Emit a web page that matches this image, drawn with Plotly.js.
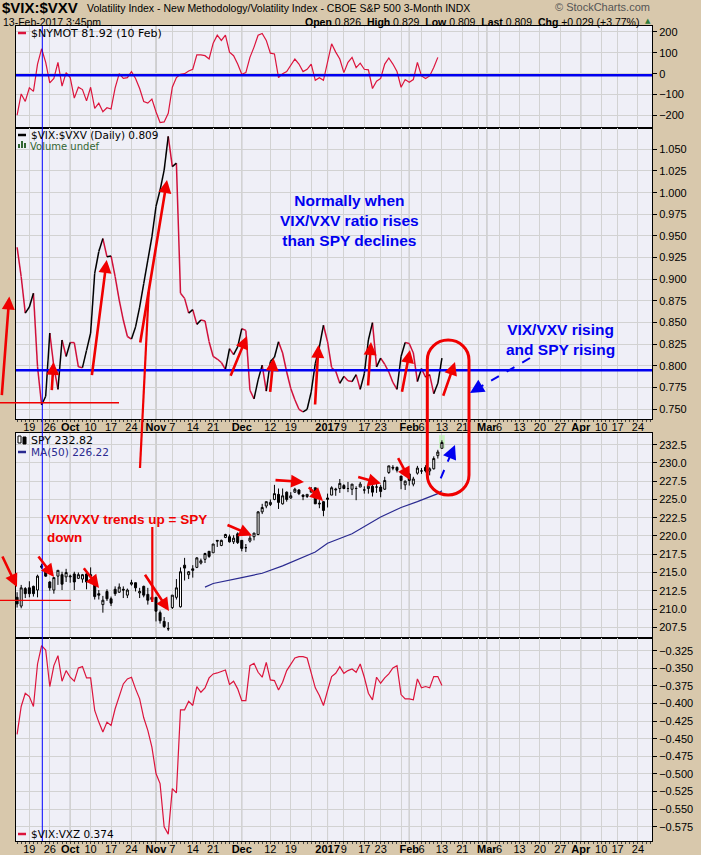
<!DOCTYPE html>
<html><head><meta charset="utf-8">
<script src="https://cdn.plot.ly/plotly-3.0.1.min.js"></script>
<style>html,body{margin:0;padding:0;background:#d8c8ac;}#chart{width:701px;height:855px;}</style>
</head><body><div id="chart"></div>
<script>
// ---- data (trading-day index: 0 = 3 Oct 2016, -13 = 14 Sep 2016, 91 = 13 Feb 2017) ----
const firstIdx = -13;
const nymot = [-198,-97,-133,-68,-85,46,119,54,-44,-23,54,-60,5,-19,-117,-65,-76,-130,-65,-166,
  -141,-182,-163,-169,-68,0,-23,-19,10,-23,-71,-133,-141,-122,-182,-234,-231,-190,-65,-19,
  -3,0,13,21,90,90,86,70,146,184,159,184,103,86,46,-3,5,78,127,184,
  192,159,98,94,-19,0,10,37,70,46,10,21,46,-32,-19,-32,54,143,103,70,
  5,54,78,29,50,21,18,-71,-36,-23,46,75,46,10,-65,-28,-41,-28,54,-11,
  -23,-11,29,78];
const vixvxv = [0.937,0.903,0.861,0.868,0.884,0.799,0.755,0.765,0.838,0.799,
  0.773,0.830,0.811,0.827,0.827,0.799,0.798,0.818,0.838,0.907,
  0.932,0.947,0.926,0.927,0.903,0.876,0.853,0.834,0.831,0.845,
  0.868,0.895,0.922,0.949,0.984,1.003,1.026,1.065,1.030,1.034,
  0.884,0.878,0.861,0.865,0.848,0.853,0.852,0.828,0.811,0.808,
  0.804,0.796,0.820,0.813,0.822,0.843,0.841,0.772,0.762,0.784,
  0.801,0.771,0.805,0.810,0.828,0.815,0.793,0.774,0.761,0.750,
  0.747,0.750,0.770,0.803,0.822,0.847,0.828,0.798,0.794,0.780,
  0.788,0.783,
  0.782,0.790,0.773,0.791,0.830,0.850,0.799,0.809,0.802,0.793,
  0.781,0.773,0.811,0.827,0.826,0.815,0.782,0.797,0.787,0.790,
  0.768,0.780,0.809];
const spyOpen = [211.6,210.4,212.8,212.9,213.1,212.6,215.7,215.4,213.7,212.6,214.5,214.7,214.4,
  214.4,214.8,214.2,214.1,214.8,214.5,214.3,212.1,210.6,212.4,211.4,212.7,212.3,212.7,211.9,213.4,213.6,212.2,213.1,212.0,211.6,
  211.6,209.5,208.3,207.3,210.2,211.6,210.3,216.0,214.7,215.5,215.7,216.3,216.8,217.9,217.7,219.4,218.7,219.8,219.9,219.2,220.3,
  219.4,218.4,219.3,219.9,220.2,223.3,224.1,224.3,225.0,225.7,224.4,226.0,225.2,226.0,226.3,225.6,225.4,226.0,226.6,224.5,224.7,
  225.0,225.6,226.3,226.5,226.9,226.5,226.4,226.5,226.7,226.3,226.5,226.8,226.7,226.7,226.4,228.7,229.4,229.4,228.2,227.0,
  228.5,227.1,228.6,228.9,229.4,228.9,229.2,231.0,232.0];
const spyHigh = [212.3,213.3,213.0,213.8,213.2,214.7,216.2,215.5,213.8,214.3,215.3,215.1,215.5,
  214.7,215.1,215.0,214.8,215.0,215.7,214.4,212.6,211.8,212.7,211.7,213.1,213.5,213.1,212.8,214.0,213.6,212.9,213.2,212.9,211.7,
  211.6,209.8,208.9,208.2,211.9,214.1,215.7,217.0,215.2,216.0,217.1,216.9,217.7,217.9,218.9,219.4,219.5,220.3,220.2,220.1,220.5,
  219.4,218.9,220.1,220.4,223.4,224.4,224.7,225.0,227.0,226.5,226.5,226.1,226.0,226.6,226.4,225.7,225.7,226.7,226.6,224.9,224.8,
  225.8,226.8,226.6,227.8,227.1,227.4,227.1,226.8,227.4,226.8,226.8,227.0,227.3,227.0,228.1,229.6,229.7,229.5,228.2,227.6,
  228.6,228.1,229.6,229.3,229.7,229.4,230.9,231.8,233.1];
const spyLow = [210.2,210.1,211.5,211.6,211.7,211.6,215.5,214.4,212.5,212.1,213.3,212.6,213.7,
  213.6,212.6,214.1,213.6,212.7,214.3,211.3,211.3,209.5,211.1,210.4,211.8,212.2,211.5,211.5,213.2,212.4,211.5,211.6,210.6,211.0,
  208.3,208.0,207.4,207.0,210.0,211.3,210.2,213.9,214.1,214.3,215.6,216.1,216.3,217.0,217.7,218.5,218.6,219.7,219.1,218.9,218.9,
  217.9,217.8,219.1,219.4,220.1,223.0,223.8,224.1,224.9,223.7,224.3,224.7,225.1,225.9,225.6,224.9,225.2,226.0,224.4,223.8,222.7,
  223.9,225.6,225.5,225.9,226.4,226.0,225.6,224.9,226.7,225.8,225.8,225.4,225.9,225.3,226.3,228.5,229.0,228.7,226.4,226.3,
  226.9,226.8,228.4,228.5,228.7,228.3,229.1,230.6,232.0];
const spyClose = [210.7,212.9,212.1,212.1,212.1,214.5,215.9,214.5,212.9,214.3,215.3,213.4,215.0,
  214.5,213.7,214.7,214.7,213.7,214.7,211.7,211.9,211.2,211.4,210.8,212.1,213.0,212.6,212.6,213.6,212.9,212.4,211.9,211.2,211.3,
  209.7,208.4,207.6,207.3,211.9,212.9,215.1,215.6,215.1,215.3,217.0,216.6,217.6,217.2,218.9,219.3,219.4,220.2,219.2,219.7,219.1,
  218.3,218.4,219.7,220.4,223.3,223.9,224.7,224.6,225.8,224.6,225.5,225.0,225.5,226.4,225.8,225.4,225.7,226.3,224.4,224.4,223.5,
  225.2,226.6,226.4,227.2,226.5,226.5,227.1,226.5,227.1,226.3,226.8,226.0,226.7,226.1,227.6,229.6,229.3,229.0,227.6,227.5,
  227.6,227.8,229.3,228.9,228.9,229.2,230.6,231.5,232.8];
const maIdx = [33,35,42,47,52,56,60,63,69,76,81,85,90,91];
const maVal = [213.0,213.5,214.3,214.9,215.9,216.8,217.8,219.0,220.3,222.6,223.9,224.7,225.8,226.2];
const vixvxz = [-0.4439,-0.4042,-0.3854,-0.3901,-0.4042,-0.3439,-0.3179,-0.3241,-0.3759,-0.3462,
  -0.3321,-0.3684,-0.3533,-0.3627,-0.3684,-0.3495,-0.3476,-0.3637,-0.3637,-0.4099,
  -0.4264,-0.4406,-0.4264,-0.4311,-0.4075,-0.3887,-0.3722,-0.3651,-0.3627,-0.3792,
  -0.3934,-0.4203,-0.4382,-0.4618,-0.4995,-0.5137,-0.5750,-0.5854,-0.5208,-0.5269,
  -0.4090,-0.4090,-0.3967,-0.4028,-0.3759,-0.3840,-0.3778,-0.3637,-0.3580,-0.3566,
  -0.3542,-0.3524,-0.3731,-0.3684,-0.3792,-0.3958,-0.3958,-0.3462,-0.3429,-0.3557,
  -0.3627,-0.3415,-0.3665,-0.3675,-0.3807,-0.3698,-0.3533,-0.3439,-0.3354,-0.3335,
  -0.3335,-0.3354,-0.3557,-0.3778,-0.3887,-0.4028,-0.3816,-0.3618,-0.3571,-0.3476,
  -0.3571,-0.3533,
  -0.3509,-0.3557,-0.3439,-0.3627,-0.3854,-0.3948,-0.3627,-0.3712,-0.3637,-0.3580,
  -0.3495,-0.3462,-0.3873,-0.3934,-0.3934,-0.3948,-0.3651,-0.3778,-0.3759,-0.3778,
  -0.3618,-0.3618,-0.3745];
const tickIdx = [-10,-5,0,5,10,15,21,25,30,35,39,42,49,54,59,63,67,72,76,81,83,86,91,96,100,102,105,110,115,120,125,130,134,139];
const tickText = ['19','26','<b>Oct</b>','10','17','24','<b>Nov</b>','7','14','21','','<b>Dec</b>','12','19','','<b>2017</b>','9','17','23','','<b>Feb</b>','6','13','21','','<b>Mar</b>','6','13','20','27','<b>Apr</b>','10','17','24'];
const monthIdx = [0,21,42,63,83,102,125];

// ---- helpers ----
const W = 701, H = 855;
const X = p => p / W, Y = p => 1 - p / H;
const xs = arr => arr.map((_, i) => i + firstIdx);
const FONT = 'Liberation Sans, Arial, sans-serif';
const RED = '#f00000', CRIMSON = '#dc143c', BLUE = '#0000f0';

const upX = [], upY = [], dnX = [], dnY = [];
for (let i = 0; i < vixvxv.length - 1; i++) {
  const rising = vixvxv[i + 1] > vixvxv[i];
  const tx = rising ? upX : dnX, ty = rising ? upY : dnY;
  tx.push(i + firstIdx, i + 1 + firstIdx, null); ty.push(vixvxv[i], vixvxv[i + 1], null);
}

const traces = [
  {type:'scatter', mode:'lines', x:xs(nymot), y:nymot, xaxis:'x', yaxis:'y', line:{color:CRIMSON, width:1.2}},
  {type:'scatter', mode:'lines', x:dnX, y:dnY, xaxis:'x2', yaxis:'y2', line:{color:'#d0103a', width:1.5}, connectgaps:false},
  {type:'scatter', mode:'lines', x:upX, y:upY, xaxis:'x2', yaxis:'y2', line:{color:'#000000', width:1.5}, connectgaps:false},
  {type:'candlestick', x:xs(spyClose), open:spyOpen, high:spyHigh, low:spyLow, close:spyClose, xaxis:'x3', yaxis:'y3',
   increasing:{line:{color:'#000', width:1}, fillcolor:'#ffffff'}, decreasing:{line:{color:'#000', width:1}, fillcolor:'#000000'}, whiskerwidth:0},
  {type:'scatter', mode:'lines', x:maIdx, y:maVal, xaxis:'x3', yaxis:'y3', line:{color:'#2a2a90', width:1.2}},
  {type:'scatter', mode:'lines', x:xs(vixvxz), y:vixvxz, xaxis:'x4', yaxis:'y4', line:{color:CRIMSON, width:1.2}}
];

const xr = [-13.27, 142.43];
function xax(anchor, labels) {
  const a = {anchor, domain:[X(16), X(652)], range:xr, tickmode:'array', tickvals:tickIdx, ticktext:tickText,
    showticklabels:labels, tickangle:0, showgrid:true, gridcolor:'#d2d2d2', gridwidth:1, zeroline:false,
    showline:true, linecolor:'#000', linewidth:1, mirror:true, ticks:'', ticklen:0, fixedrange:true,
    tickfont:{family:FONT, size:11, color:'#000'}, rangeslider:{visible:false}};
  if (labels) {
    a.ticklabelstandoff = -2;
    a.minor = {tickmode:'linear', tick0:0, dtick:1, ticks:'outside', ticklen:2, tickcolor:'#444', showgrid:false};
  }
  return a;
}
function yax(anchor, dom, range, vals, fmt) {
  return {anchor, side:'right', domain:[Y(dom[1]), Y(dom[0])], range, tickmode:'array', tickvals:vals, tickformat:fmt,
    ticks:'outside', ticklen:4, tickcolor:'#000', showgrid:true, gridcolor:'#d2d2d2', zeroline:false,
    showline:true, linecolor:'#000', linewidth:1, mirror:true, fixedrange:true,
    tickfont:{family:FONT, size:11, color:'#000'}};
}
const range = (a, b, s) => { const r = []; for (let v = a; v <= b + 1e-9; v += s) r.push(+v.toFixed(4)); return r; };

const shapes = [];
['x','x2','x3','x4'].forEach((xa, k) => {
  const ya = ['y','y2','y3','y4'][k];
  monthIdx.forEach(m => shapes.push({type:'line', xref:xa, yref:ya + ' domain', x0:m, x1:m, y0:0, y1:1, line:{color:'#a8a8a8', width:1}, layer:'below'}));
});
const pl = (x0, y0, x1, y1, color, width, dash) => ({type:'line', xref:'paper', yref:'paper', x0:X(x0), y0:Y(y0), x1:X(x1), y1:Y(y1), line:{color, width, dash:dash || 'solid'}});
shapes.push({type:'line', xref:'paper', yref:'y', x0:X(16), x1:X(652), y0:-8, y1:-8, line:{color:BLUE, width:2.5}});
shapes.push({type:'line', xref:'paper', yref:'y2', x0:X(16), x1:X(652), y0:0.795, y1:0.795, line:{color:BLUE, width:2.5}});
shapes.push(pl(42.3, 26, 42.3, 841, '#0000ff', 1));
shapes.push(pl(0, 402.7, 119, 402.7, RED, 1.6));
shapes.push(pl(0, 600.3, 71, 600.3, RED, 1.2));
shapes.push(pl(140, 468, 148.7, 292, RED, 2.2));
shapes.push(pl(152.3, 527, 152.3, 602, RED, 2.2));
shapes.push({type:'rect', xref:'x3', yref:'y3', x0:90.3, x1:91.7, y0:232.0, y1:233.8, fillcolor:'#c8f5c0', line:{width:0}, layer:'below'});
(function(){
  const L = 427.3, R = 469, T = 340, B = 495, r = 20, k = 0.5523, cx = (L + R) / 2, rx = (R - L) / 2;
  const p = (x, y) => X(x).toFixed(5) + ',' + Y(y).toFixed(5);
  const path = 'M' + p(L, T + r) + ' C' + p(L, T + r - k * r) + ' ' + p(cx - k * rx, T) + ' ' + p(cx, T) +
    ' C' + p(cx + k * rx, T) + ' ' + p(R, T + r - k * r) + ' ' + p(R, T + r) +
    ' L' + p(R, B - r) + ' C' + p(R, B - r + k * r) + ' ' + p(cx + k * rx, B) + ' ' + p(cx, B) +
    ' C' + p(cx - k * rx, B) + ' ' + p(L, B - r + k * r) + ' ' + p(L, B - r) + ' Z';
  shapes.push({type:'path', xref:'paper', yref:'paper', path, line:{color:RED, width:3}});
})();
shapes.push(pl(530, 358, 476, 389.5, BLUE, 2, 'dash'));
shapes.push(pl(440.7, 478.3, 452.5, 450.5, BLUE, 2, 'dash'));
shapes.push(pl(18, 33, 26, 33, CRIMSON, 2.5));
shapes.push(pl(18, 135, 26, 135, '#000', 2.5));
shapes.push(pl(18, 452, 26, 452, '#2a2a90', 2.5));
shapes.push(pl(18, 834, 26, 834, CRIMSON, 2.5));
[[18,144,20,148],[21,141,23,148],[24,143,26,148]].forEach(b => shapes.push({type:'rect', xref:'paper', yref:'paper', x0:X(b[0]), x1:X(b[2]), y0:Y(b[3]), y1:Y(b[1]), fillcolor:'#336633', line:{width:0}}));
shapes.push({type:'rect', xref:'paper', yref:'paper', x0:X(18), x1:X(21), y0:Y(443), y1:Y(436), fillcolor:'#fff', line:{color:'#000', width:1}});
shapes.push({type:'rect', xref:'paper', yref:'paper', x0:X(23), x1:X(26), y0:Y(444), y1:Y(437), fillcolor:'#000', line:{color:'#000', width:1}});

const ann = [];
const txt = (x, y, text, size, color, xanchor, family, extra) => Object.assign({xref:'paper', yref:'paper', x:X(x), y:Y(y), text, showarrow:false,
  xanchor:xanchor || 'left', yanchor:'middle', font:{family:family || FONT, size, color}}, extra || {});
const arrow = (tx, ty, hx, hy, color, width, size, head) => ({xref:'paper', yref:'paper', x:X(hx), y:Y(hy), ax:tx - hx, ay:ty - hy,
  axref:'pixel', ayref:'pixel', text:'', showarrow:true, arrowhead:head || 2, arrowsize:size || 0.9, arrowwidth:width, arrowcolor:color});
ann.push(txt(1, 7.5, '<b>$VIX:$VXV</b>', 15, '#000', 'left', FONT, {borderpad:0}));
ann.push(txt(85, 7.5, 'Volatility Index - New Methodology/Volatility Index - CBOE S&P 500 3-Month INDX', 10.5, '#000'));
ann.push(txt(2, 22, '13-Feb-2017 3:45pm', 10.5, '#000', 'left', FONT, {borderpad:0}));
ann.push(txt(641, 21.5, '<b>Open</b> 0.826  <b>High</b> 0.829  <b>Low</b> 0.809  <b>Last</b> 0.809  <b>Chg</b> +0.029 (+3.77%)', 10.5, '#000', 'right'));
ann.push(txt(648, 21, '▲', 7, '#2e7d3a', 'center', 'DejaVu Sans'));
ann.push(txt(652, 7, '© StockCharts.com', 11, '#555', 'right'));
const LF = 'DejaVu Sans, Verdana, sans-serif';
ann.push(txt(29, 33, '$NYMOT 81.92 (10 Feb)', 11, '#000', 'left', LF));
ann.push(txt(29, 135, '$VIX:$VXV (Daily) 0.809', 10.5, '#000', 'left', LF));
ann.push(txt(28, 146, 'Volume undef', 10, '#336633', 'left', LF));
ann.push(txt(29, 440, 'SPY 232.82', 11, '#000', 'left', LF));
ann.push(txt(29, 452, 'MA(50) 226.22', 10.5, '#2a2a90', 'left', LF));
ann.push(txt(29, 834, '$VIX:VXZ 0.374', 10.5, '#000', 'left', LF));
ann.push(txt(349, 220.5, '<b>Normally when<br>VIX/VXV ratio rises<br>than SPY declines</b>', 15.5, BLUE, 'center'));
ann.push(txt(560, 339, '<b>VIX/VXV rising<br>and SPY rising</b>', 15.5, BLUE, 'center'));
ann.push(txt(45, 528, '<b>VIX/VXV trends up = SPY<br>down</b>', 13.5, RED, 'left', FONT, {align:'left'}));
[[1.7,396.7,9.3,296.5],[51.7,391.7,53.5,362],[91.7,376.7,106.7,260],[140,344,167,180],[230,377.3,247,336],
 [270,393.3,273.5,358],[315,406,318.5,345],[368,387,371,342],[401.7,393.3,410,350],[442.7,397.3,455,362],
 [1.7,555,17,587],[37.3,555,54,577],[82.7,566.7,99,588],[144,573.3,169,611],[226,524.3,252,535.5],
 [274,480,304,482],[307.3,486,323,501],[356.7,476.7,381,483.5],[397.3,456.7,410,480]]
 .forEach(a => ann.push(arrow(a[0], a[1], a[2], a[3], RED, 2.6, 1.0)));
ann.push(arrow(479, 387.5, 470, 393, BLUE, 2, 1.4));
ann.push(arrow(451, 454.5, 455, 445, BLUE, 2, 1.4));

const layout = {
  width:W, height:H, margin:{l:0, r:0, t:0, b:0}, paper_bgcolor:'#d8c8ac', plot_bgcolor:'#efeff7',
  showlegend:false, hovermode:false, dragmode:false,
  xaxis:xax('y', false), xaxis2:xax('y2', true), xaxis3:xax('y3', false), xaxis4:xax('y4', true),
  yaxis:yax('x', [26,128], [-260,228], [-200,-100,0,100,200], 'd'),
  yaxis2:yax('x2', [128,419], [0.7388,1.0746], range(0.75,1.05,0.025), '.3f'),
  yaxis3:yax('x3', [433,638], [206.03,234.1], range(207.5,232.5,2.5), '.1f'),
  yaxis4:yax('x4', [638,841], [-0.5952,-0.307], range(-0.575,-0.325,0.025), '.3f'),
  shapes, annotations:ann
};
Plotly.newPlot('chart', traces, layout, {staticPlot:true, displayModeBar:false});
</script></body></html>
